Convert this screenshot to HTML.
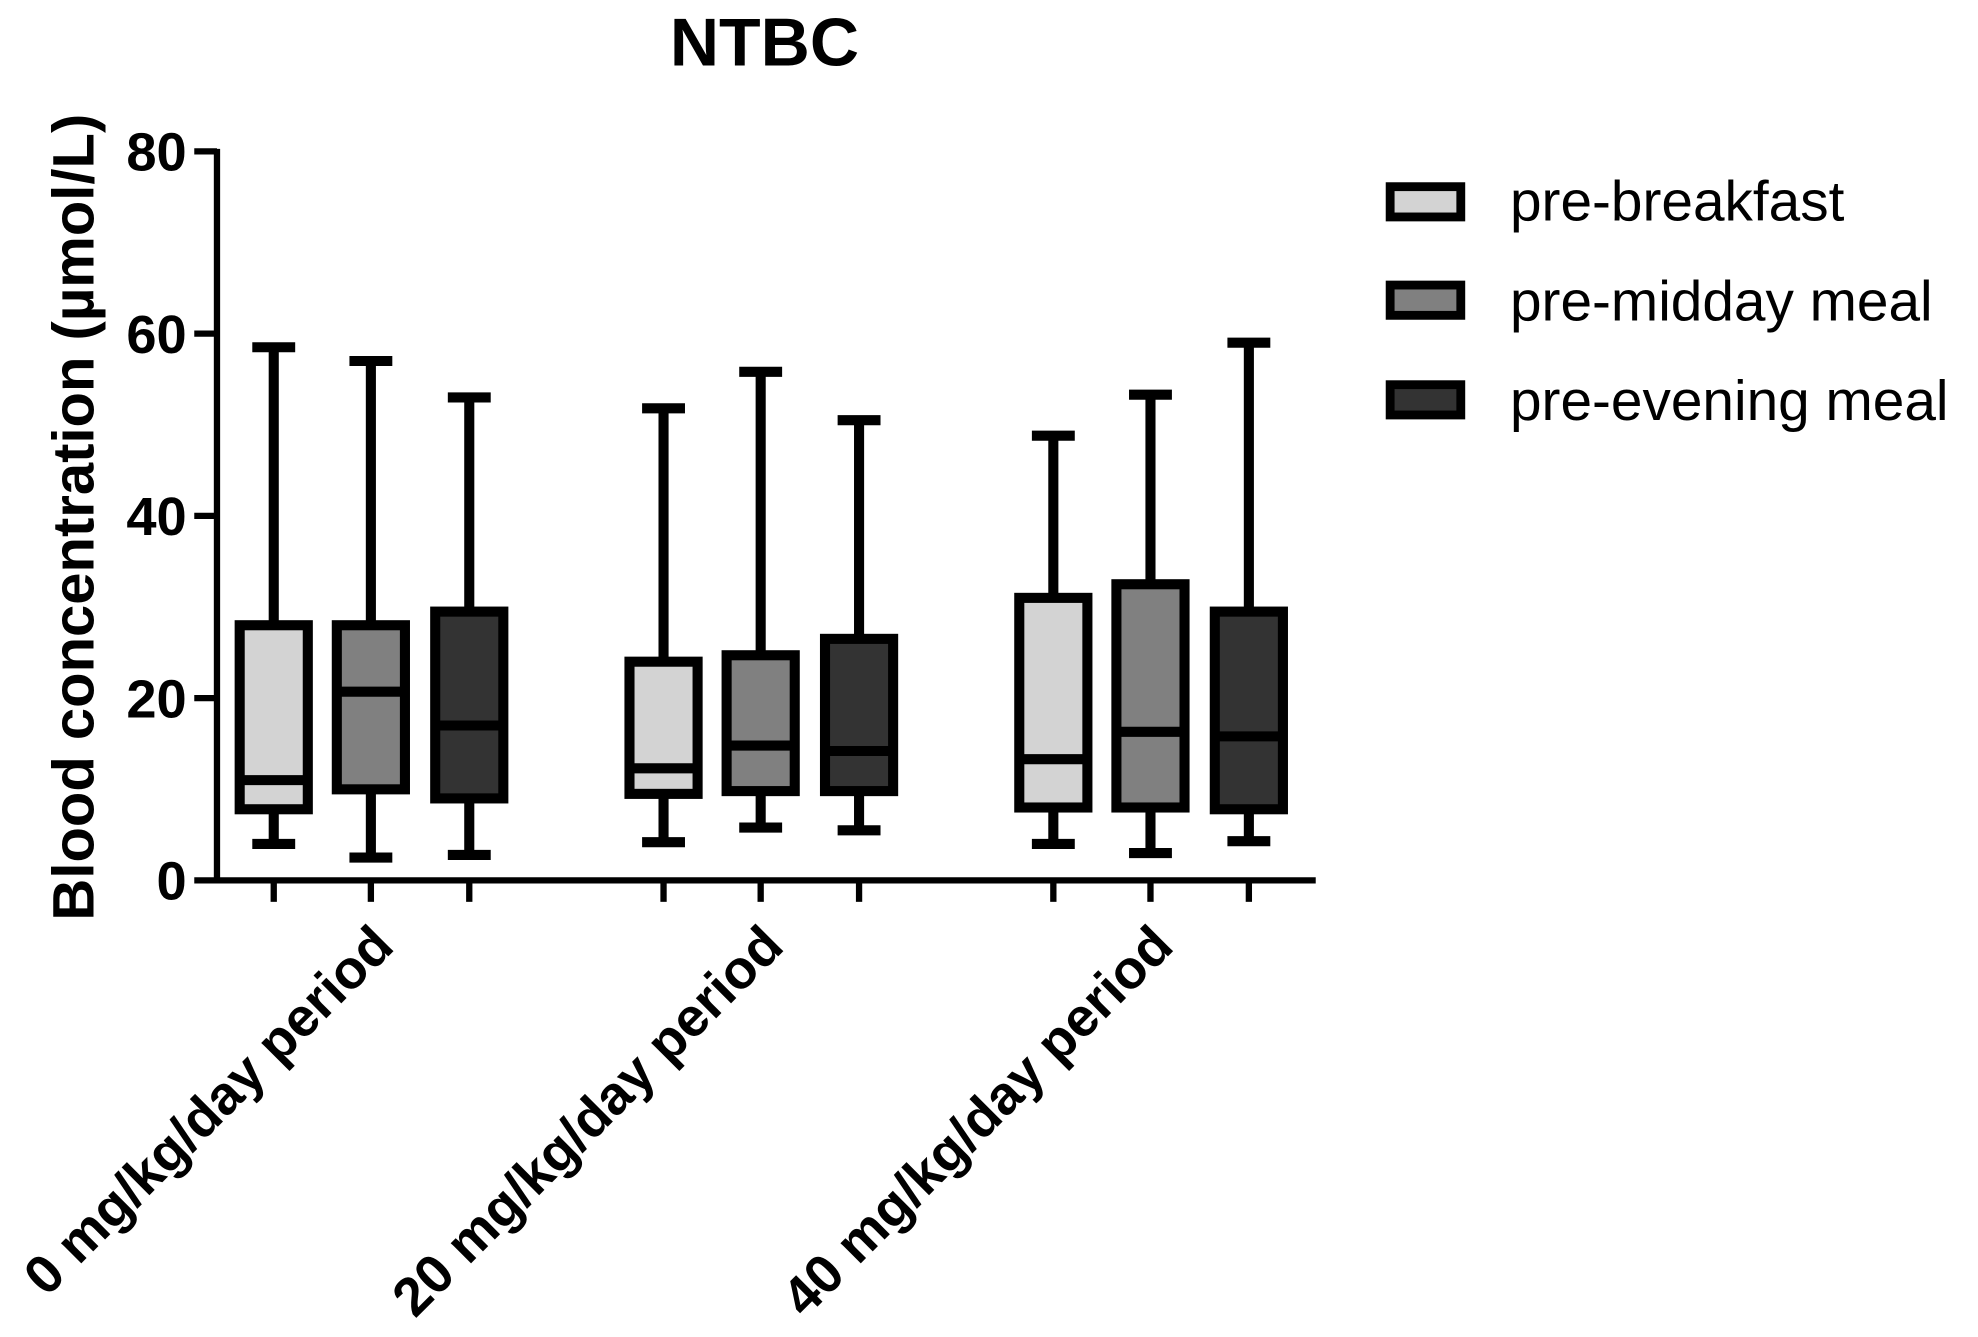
<!DOCTYPE html>
<html><head><meta charset="utf-8"><style>html,body{margin:0;padding:0;background:#fff;}svg{display:block}</style></head>
<body>
<svg width="1978" height="1337" viewBox="0 0 1568 1060" preserveAspectRatio="none" xmlns="http://www.w3.org/2000/svg" font-family="Liberation Sans, Arial, sans-serif">
<text x="606" y="52" font-size="54" font-weight="bold" text-anchor="middle">NTBC</text>
<text transform="translate(74,410) rotate(-90)" font-size="46" font-weight="bold" text-anchor="middle">Blood concentration (µmol/L)</text>
<g stroke="#000" stroke-width="5" fill="none">
<line x1="172" y1="118" x2="172" y2="700"/>
<line x1="154" y1="698" x2="1043" y2="698"/>
<line x1="154" y1="120" x2="172" y2="120"/>
<line x1="154" y1="264.5" x2="172" y2="264.5"/>
<line x1="154" y1="409" x2="172" y2="409"/>
<line x1="154" y1="553.5" x2="172" y2="553.5"/>
<line x1="217" y1="698" x2="217" y2="715"/><line x1="294" y1="698" x2="294" y2="715"/><line x1="372" y1="698" x2="372" y2="715"/>
<line x1="526" y1="698" x2="526" y2="715"/><line x1="603" y1="698" x2="603" y2="715"/><line x1="681" y1="698" x2="681" y2="715"/>
<line x1="835" y1="698" x2="835" y2="715"/><line x1="912" y1="698" x2="912" y2="715"/><line x1="990" y1="698" x2="990" y2="715"/>
</g>
<g font-size="43" font-weight="bold" text-anchor="end">
<text x="148" y="135">80</text><text x="148" y="280">60</text><text x="148" y="424">40</text><text x="148" y="569">20</text><text x="148" y="713">0</text>
</g>
<g stroke="#000" stroke-width="8" fill="none">
<path d="M217 275.3V495.7M217 641.6V669.1M200 275.3H234M200 669.1H234"/>
<path d="M294 286.2V495.7M294 625.8V679.9M277 286.2H311M277 679.9H311"/>
<path d="M372 315.1V484.9M372 633V677.8M355 315.1H389M355 677.8H389"/>
<path d="M526 323.7V524.6M526 629.4V667.7M509 323.7H543M509 667.7H543"/>
<path d="M603 294.8V519.5M603 627.2V656.1M586 294.8H620M586 656.1H620"/>
<path d="M681 333.1V506.5M681 627.2V658.3M664 333.1H698M664 658.3H698"/>
<path d="M835 345.4V474M835 640.2V669.1M818 345.4H852M818 669.1H852"/>
<path d="M912 312.9V463.2M912 640.2V676.3M895 312.9H929M895 676.3H929"/>
<path d="M990 271.7V484.9M990 641.6V666.9M973 271.7H1007M973 666.9H1007"/>
<rect x="190" y="495.7" width="54" height="145.9" fill="#d3d3d3"/><path d="M190 618.5H244"/>
<rect x="267" y="495.7" width="54" height="130.1" fill="#808080"/><path d="M267 548.4H321"/>
<rect x="345" y="484.9" width="54" height="148.1" fill="#333"/><path d="M345 575.2H399"/>
<rect x="499" y="524.6" width="54" height="104.8" fill="#d3d3d3"/><path d="M499 609.1H553"/>
<rect x="576" y="519.5" width="54" height="107.7" fill="#808080"/><path d="M576 591.1H630"/>
<rect x="654" y="506.5" width="54" height="120.7" fill="#333"/><path d="M654 595.4H708"/>
<rect x="808" y="474" width="54" height="166.2" fill="#d3d3d3"/><path d="M808 601.9H862"/>
<rect x="885" y="463.2" width="54" height="177" fill="#808080"/><path d="M885 580.2H939"/>
<rect x="963" y="484.9" width="54" height="156.7" fill="#333"/><path d="M963 583.8H1017"/>
</g>
<g font-size="43" font-weight="bold" text-anchor="end">
<text transform="translate(314,752) rotate(-45)">0 mg/kg/day period</text>
<text transform="translate(623,752) rotate(-45)">20 mg/kg/day period</text>
<text transform="translate(932,752) rotate(-45)">40 mg/kg/day period</text>
</g>
<g stroke="#000" stroke-width="7">
<rect x="1102" y="148" width="56" height="24" fill="#d3d3d3"/>
<rect x="1102" y="226" width="56" height="24" fill="#808080"/>
<rect x="1102" y="305" width="56" height="24" fill="#333"/>
</g>
<g font-size="45">
<text x="1197" y="175">pre-breakfast</text>
<text x="1197" y="254">pre-midday meal</text>
<text x="1197" y="333">pre-evening meal</text>
</g>
</svg>
</body></html>
